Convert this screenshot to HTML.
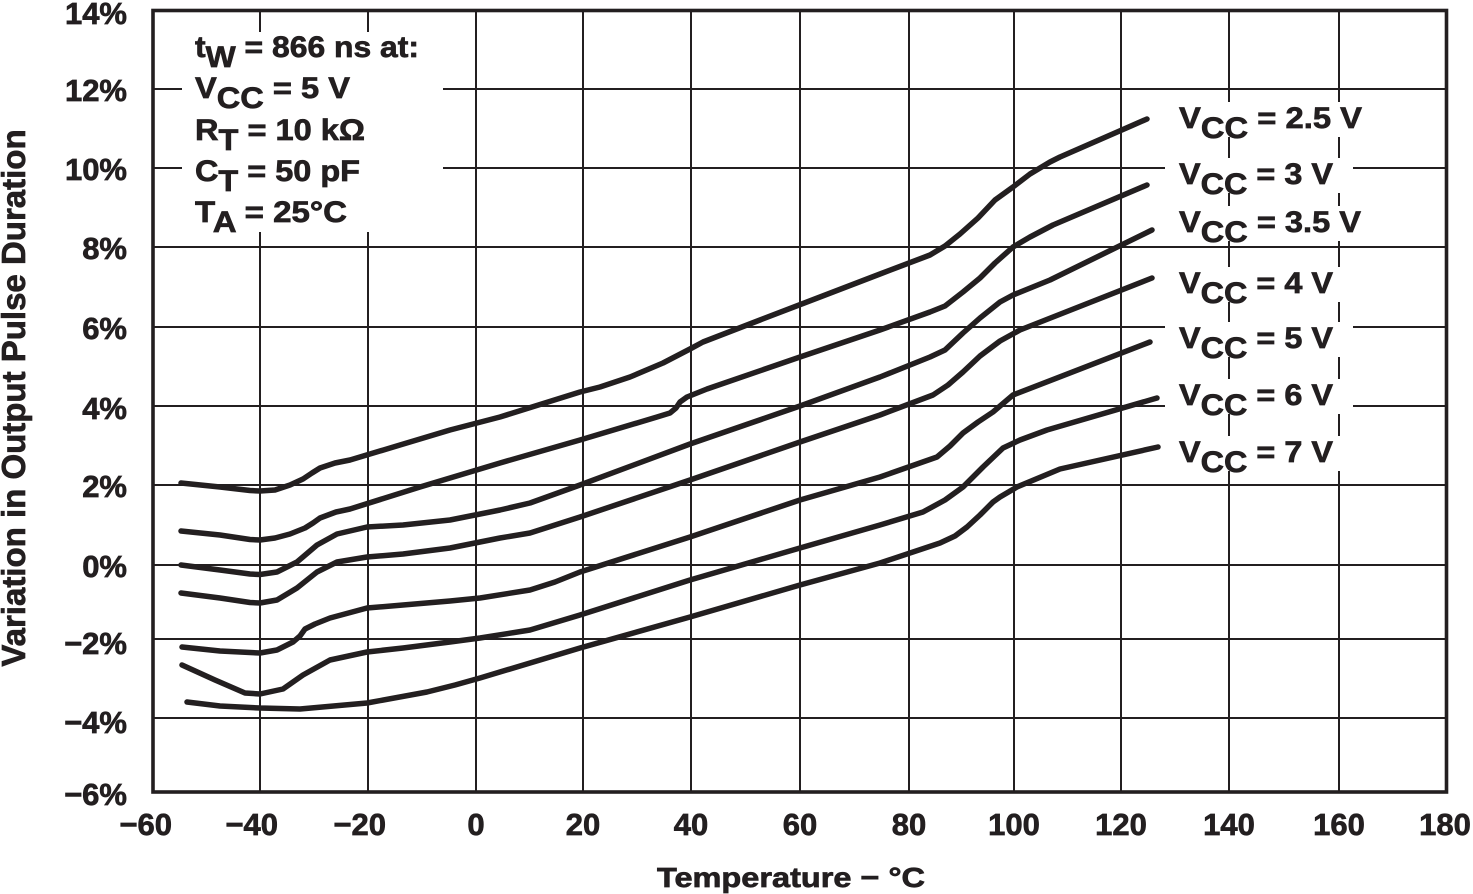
<!DOCTYPE html>
<html>
<head>
<meta charset="utf-8">
<style>
  html,body{margin:0;padding:0;background:#fff;}
  svg{display:block;}
  text{font-family:"Liberation Sans",Arial,Helvetica,sans-serif;font-weight:bold;fill:#231f20;stroke:#231f20;stroke-width:0.7;}
</style>
</head>
<body>
<svg width="1473" height="894" viewBox="0 0 1473 894" xmlns="http://www.w3.org/2000/svg">
  <rect x="0" y="0" width="1473" height="894" fill="#fff"/>

  <!-- grid -->
  <g stroke="#231f20" stroke-width="2" fill="none">
    <line x1="260" y1="10" x2="260" y2="792"/>
    <line x1="368" y1="10" x2="368" y2="792"/>
    <line x1="476" y1="10" x2="476" y2="792"/>
    <line x1="583" y1="10" x2="583" y2="792"/>
    <line x1="691" y1="10" x2="691" y2="792"/>
    <line x1="800" y1="10" x2="800" y2="792"/>
    <line x1="909" y1="10" x2="909" y2="792"/>
    <line x1="1014" y1="10" x2="1014" y2="792"/>
    <line x1="1121" y1="10" x2="1121" y2="792"/>
    <line x1="1229" y1="10" x2="1229" y2="792"/>
    <line x1="1339" y1="10" x2="1339" y2="792"/>

    <line x1="153" y1="89" x2="1446" y2="89"/>
    <line x1="153" y1="168" x2="1446" y2="168"/>
    <line x1="153" y1="247" x2="1446" y2="247"/>
    <line x1="153" y1="327" x2="1446" y2="327"/>
    <line x1="153" y1="406" x2="1446" y2="406"/>
    <line x1="153" y1="485" x2="1446" y2="485"/>
    <line x1="153" y1="565" x2="1446" y2="565"/>
    <line x1="153" y1="639" x2="1446" y2="639"/>
    <line x1="153" y1="718" x2="1446" y2="718"/>
  </g>

  <!-- white boxes behind annotation and legend labels -->
  <g fill="#fff">
    <rect x="182" y="32" width="261" height="200"/>
    <rect x="1165" y="102" width="210" height="35"/>
    <rect x="1165" y="158" width="188" height="35"/>
    <rect x="1165" y="206" width="210" height="35"/>
    <rect x="1165" y="267" width="188" height="35"/>
    <rect x="1165" y="322" width="188" height="35"/>
    <rect x="1165" y="379" width="188" height="35"/>
    <rect x="1165" y="436" width="188" height="35"/>
  </g>

  <!-- frame -->
  <rect x="153" y="10.5" width="1293.5" height="781.5" fill="none" stroke="#231f20" stroke-width="3.6"/>

  <!-- curves -->
  <g fill="none" stroke="#231f20" stroke-width="5.5" stroke-linejoin="round" stroke-linecap="round">
    <polyline points="181,483 220,487 250,490.5 260,491 275,490 290,485 303,479 312,473 320,468 335,463 350,460 400,445 450,430 500,417 580,392 600,387 630,377 663,363 690,349 703,342 760,320 820,297 880,274 930,255 945,246 960,234 978,218 995,200 1013,187 1030,174 1050,162 1060,157 1147,119"/>
    <polyline points="181,531 220,535 250,539.5 260,540 275,538 290,534 305,528 313,523 320,518 336,512 350,509 420,487 500,463 580,440 657,417 670,413 676,408 680,402 687,397 707,389 800,357 880,330 930,312 945,306 963,292 980,278 995,263 1013,247 1030,237 1053,225 1147,185"/>
    <polyline points="181,565 220,570 250,574 260,574.5 277,572 297,562 317,545 337,534 367,527 403,525 450,520 500,510 530,503 580,485 690,444 800,406 880,377 930,357 945,350 963,333 980,318 1000,302 1013,295 1050,280 1152,230"/>
    <polyline points="181,593 220,598 250,602.5 260,603 277,600 297,588 317,572 337,562 367,557 403,554 450,548 500,538 530,533 580,517 690,480 800,442 880,415 933,395 948,385 963,372 980,356 1000,341 1020,330 1152,278"/>
    <polyline points="182,647 220,651 260,653 277,650 293,642 300,636 305,629 315,624 330,618 367,608 403,605 450,601 480,598 530,590 555,582 580,572 690,537 800,500 880,477 937,457 950,446 963,433 978,422 993,412 1013,395 1150,342"/>
    <polyline points="182,665 215,680 245,693 260,694 283,689 303,675 330,660 367,652 403,648 450,642 480,638 530,630 580,615 690,580 800,548 880,525 923,512 945,500 963,487 983,467 1003,448 1020,440 1047,430 1157,398"/>
    <polyline points="187,702 220,706 260,708 300,709 367,703 427,692 455,685 480,678 580,648 690,617 800,585 880,563 940,543 955,536 967,527 980,515 993,502 1000,497 1017,487 1060,469 1158,447"/>
  </g>

  <!-- Y tick labels -->
  <g font-size="31" text-anchor="end">
    <text x="127" y="24">14%</text>
    <text x="127" y="101">12%</text>
    <text x="127" y="180">10%</text>
    <text x="127" y="259">8%</text>
    <text x="127" y="339">6%</text>
    <text x="127" y="419">4%</text>
    <text x="127" y="497">2%</text>
    <text x="127" y="577">0%</text>
    <text x="127" y="654">−2%</text>
    <text x="127" y="733">−4%</text>
    <text x="127" y="805">−6%</text>
  </g>

  <!-- X tick labels -->
  <g font-size="31">
    <text x="172" y="835" text-anchor="end">−60</text>
    <text x="278" y="835" text-anchor="end">−40</text>
    <text x="386" y="835" text-anchor="end">−20</text>
    <text x="476" y="835" text-anchor="middle">0</text>
    <text x="583" y="835" text-anchor="middle">20</text>
    <text x="691" y="835" text-anchor="middle">40</text>
    <text x="800" y="835" text-anchor="middle">60</text>
    <text x="909" y="835" text-anchor="middle">80</text>
    <text x="1014" y="835" text-anchor="middle">100</text>
    <text x="1121" y="835" text-anchor="middle">120</text>
    <text x="1229" y="835" text-anchor="middle">140</text>
    <text x="1339" y="835" text-anchor="middle">160</text>
    <text x="1445" y="835" text-anchor="middle">180</text>
  </g>

  <!-- Axis titles -->
  <text x="657" y="887" font-size="28" textLength="268" lengthAdjust="spacingAndGlyphs">Temperature − °C</text>
  <text transform="translate(25,398) rotate(-90)" font-size="33" text-anchor="middle">Variation in Output Pulse Duration</text>

  <!-- Annotation -->
  <g font-size="30">
    <text x="195" y="57" textLength="224" lengthAdjust="spacingAndGlyphs">t<tspan dy="10">W</tspan><tspan dy="-10"> = 866 ns at:</tspan></text>
    <text x="195" y="98" textLength="155" lengthAdjust="spacingAndGlyphs">V<tspan dy="10">CC</tspan><tspan dy="-10"> = 5 V</tspan></text>
    <text x="195" y="140" textLength="170" lengthAdjust="spacingAndGlyphs">R<tspan dy="10">T</tspan><tspan dy="-10"> = 10 kΩ</tspan></text>
    <text x="195" y="181" textLength="165" lengthAdjust="spacingAndGlyphs">C<tspan dy="10">T</tspan><tspan dy="-10"> = 50 pF</tspan></text>
    <text x="195" y="222" textLength="152" lengthAdjust="spacingAndGlyphs">T<tspan dy="10">A</tspan><tspan dy="-10"> = 25°C</tspan></text>
  </g>

  <!-- Legend labels -->
  <g font-size="30">
    <text x="1179" y="128" textLength="183" lengthAdjust="spacingAndGlyphs">V<tspan dy="10">CC</tspan><tspan dy="-10"> = 2.5 V</tspan></text>
    <text x="1179" y="184" textLength="154" lengthAdjust="spacingAndGlyphs">V<tspan dy="10">CC</tspan><tspan dy="-10"> = 3 V</tspan></text>
    <text x="1179" y="232" textLength="182" lengthAdjust="spacingAndGlyphs">V<tspan dy="10">CC</tspan><tspan dy="-10"> = 3.5 V</tspan></text>
    <text x="1179" y="293" textLength="154" lengthAdjust="spacingAndGlyphs">V<tspan dy="10">CC</tspan><tspan dy="-10"> = 4 V</tspan></text>
    <text x="1179" y="348" textLength="154" lengthAdjust="spacingAndGlyphs">V<tspan dy="10">CC</tspan><tspan dy="-10"> = 5 V</tspan></text>
    <text x="1179" y="405" textLength="154" lengthAdjust="spacingAndGlyphs">V<tspan dy="10">CC</tspan><tspan dy="-10"> = 6 V</tspan></text>
    <text x="1179" y="462" textLength="154" lengthAdjust="spacingAndGlyphs">V<tspan dy="10">CC</tspan><tspan dy="-10"> = 7 V</tspan></text>
  </g>
</svg>
</body>
</html>
